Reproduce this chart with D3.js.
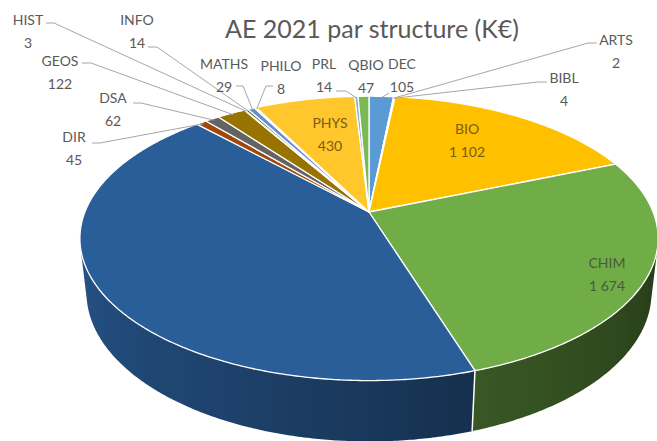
<!DOCTYPE html>
<html>
<head>
<meta charset="utf-8">
<script src="https://cdn.jsdelivr.net/npm/d3@7"></script>
<style>
  body { margin: 0; background: #ffffff; }
  svg { display: block; }
</style>
</head>
<body>
<svg id="chart" width="657" height="441"></svg>
<script>
// AE 2021 par structure (K€)
const categories = ["DEC", "ARTS", "BIBL", "BIO", "CHIM", "AUTRES", "DIR", "DSA", "GEOS",
                    "HIST", "INFO", "MATHS", "PHILO", "PHYS", "PRL", "QBIO"];
const values = [105, 2, 4, 1102, 1674, 2750, 45, 62, 122, 3, 14, 29, 8, 430, 14, 47];
const sliceColors = ["#5B9BD5", "#ED7D31", "#A5A5A5", "#FFC000", "#70AD47", "#2A5E99", "#9E480E",
                     "#636363", "#997300", "#255E91", "#43682B", "#698ED0", "#F1975A", "#FFC72C",
                     "#7CAFDD", "#7CB854"];
const valueLabels = ["105", "2", "4", "1 102", "1 674", "", "45", "62", "122",
                     "3", "14", "29", "8", "430", "14", "47"];
const titleText = "AE 2021 par structure (K€)";

// label placement: [centre x, first baseline y]
const labelLayout = {
  HIST: [28, 25], INFO: [137, 25], GEOS: [60, 66], DSA: [113, 103], DIR: [74, 142],
  MATHS: [224, 69], PHILO: [281, 71], PRL: [324, 69], QBIO: [366, 70], DEC: [402, 69],
  ARTS: [616, 45], BIBL: [564, 83], PHYS: [330, 128], BIO: [467, 134], CHIM: [607, 268]
};
// leader lines: start point and end of the short horizontal tick
const leaderLayout = {
  HIST: [46, 23, 54, 23], INFO: [148, 47, 157, 47], GEOS: [82, 63, 91, 63],
  DSA: [133, 103, 141, 103], DIR: [92, 143, 100, 143], MATHS: [236, 86, 243, 86],
  PHILO: [273, 86, 266, 86], PRL: [336, 91, 346, 91], DEC: [389, 93, 389, 93],
  ARTS: [597, 43, 588, 43], BIBL: [547, 82, 538, 82]
};
const insideLabelColor = { PHYS: "#7a5b12", BIO: "#7a5b12", CHIM: "#4b5a3e" };

const svg = d3.select("#chart");
const defs = svg.append("defs");

// perspective view of a tilted disc
const elev = 28.9 * Math.PI / 180, sinE = Math.sin(elev), cosE = Math.cos(elev);
const camD = 4.717, focal = 1340, cx = 369, cy = 212, thick = 0.22;
function world(a, r, h) {
  const e = r * Math.sin(a), n = r * Math.cos(a);
  return [e, n * sinE - h * cosE, n * cosE + h * sinE];
}
function project(a, r, h) {
  const [X, Y, Z] = world(a, r, h);
  const k = focal / (camD + Z);
  return [cx + X * k, cy - Y * k];
}
function sideVisible(a) {
  const [X, Y, Z] = world(a, 1, thick / 2);
  const nx = Math.sin(a), ny = Math.cos(a) * sinE, nz = Math.cos(a) * cosE;
  return -X * nx - Y * ny - (camD + Z) * nz > 0;
}

const data = categories.map((c, i) => ({ name: c, value: values[i], color: sliceColors[i], label: valueLabels[i] }));
const arcs = d3.pie().sort(null).value(d => d.value).startAngle(0).endAngle(2 * Math.PI)(data);

const shade = d3.scaleLinear().domain([110, 160, 200, 265]).range([0.36, 0.5, 0.68, 0.9]).clamp(true);
const line = d3.line();
const step = Math.PI / 360;

// outer wall of the disc, facing the viewer, shaded with a horizontal gradient
const sideG = svg.append("g");
arcs.forEach((d, idx) => {
  const n = Math.max(2, Math.ceil((d.endAngle - d.startAngle) / step));
  const angles = d3.range(n + 1).map(i => d.startAngle + (d.endAngle - d.startAngle) * i / n)
    .filter(a => sideVisible(a));
  if (angles.length < 2) return;
  const top = angles.map(a => project(a, 1, 0));
  const bottom = angles.map(a => project(a, 1, thick)).reverse();
  const xs = top.map(p => p[0]).concat(bottom.map(p => p[0]));
  const xmin = d3.min(xs), xmax = d3.max(xs);
  const base = d3.rgb(d.data.color);
  const stops = angles.map(a => {
    const f = shade(a * 180 / Math.PI);
    return { off: (project(a, 1, thick / 2)[0] - xmin) / (xmax - xmin || 1),
             col: d3.rgb(base.r * f, base.g * f, base.b * f).formatHex() };
  }).sort((p, q) => p.off - q.off);
  const gid = "wall" + idx;
  const g = defs.append("linearGradient").attr("id", gid).attr("gradientUnits", "userSpaceOnUse")
    .attr("x1", xmin).attr("x2", xmax).attr("y1", 0).attr("y2", 0);
  stops.forEach(s => g.append("stop").attr("offset", Math.max(0, Math.min(1, s.off))).attr("stop-color", s.col));
  sideG.append("path").attr("d", line(top.concat(bottom)) + "Z")
    .attr("fill", `url(#${gid})`);
});
// white seams between slices on the wall
arcs.forEach(d => {
  const a = d.startAngle;
  if (sideVisible(a)) {
    sideG.append("path").attr("d", line([project(a, 1, 0), project(a, 1, thick)]))
      .attr("stroke", "#ffffff").attr("stroke-width", 1.5).attr("fill", "none");
  }
});

// top faces
const topG = svg.append("g");
arcs.forEach(d => {
  const pts = [project(0, 0, 0)];
  const n = Math.max(2, Math.ceil((d.endAngle - d.startAngle) / step));
  for (let i = 0; i <= n; i++) {
    pts.push(project(d.startAngle + (d.endAngle - d.startAngle) * i / n, 1, 0));
  }
  topG.append("path").attr("d", line(pts) + "Z")
    .attr("fill", d.data.color).attr("stroke", "#ffffff").attr("stroke-width", 1.3)
    .attr("stroke-linejoin", "round");
});

// leader lines
const leadG = svg.append("g").attr("fill", "none").attr("stroke", "#a6a6a6").attr("stroke-width", 1);
arcs.forEach(d => {
  const L = leaderLayout[d.data.name];
  if (!L) return;
  const mid = (d.startAngle + d.endAngle) / 2;
  const rim = project(mid, 0.985, 0);
  leadG.append("path").attr("d", line([[L[0], L[1]], [L[2], L[3]], rim]));
});

// data labels
const labG = svg.append("g").attr("font-family", "Lato, 'Open Sans', sans-serif")
  .attr("font-size", 14).attr("text-anchor", "middle");
arcs.forEach(d => {
  const p = labelLayout[d.data.name];
  if (!p) return;
  const t = labG.append("text").attr("x", p[0]).attr("y", p[1])
    .attr("fill", insideLabelColor[d.data.name] || "#595959");
  t.append("tspan").attr("x", p[0]).text(d.data.name);
  t.append("tspan").attr("x", p[0]).attr("dy", 22.5).text(d.data.label);
});

// title
svg.append("text").attr("x", 372).attr("y", 38).attr("text-anchor", "middle")
  .attr("font-family", "Lato, 'Open Sans', sans-serif").attr("font-size", 25)
  .attr("fill", "#595959").text(titleText);
</script>
</body>
</html>
